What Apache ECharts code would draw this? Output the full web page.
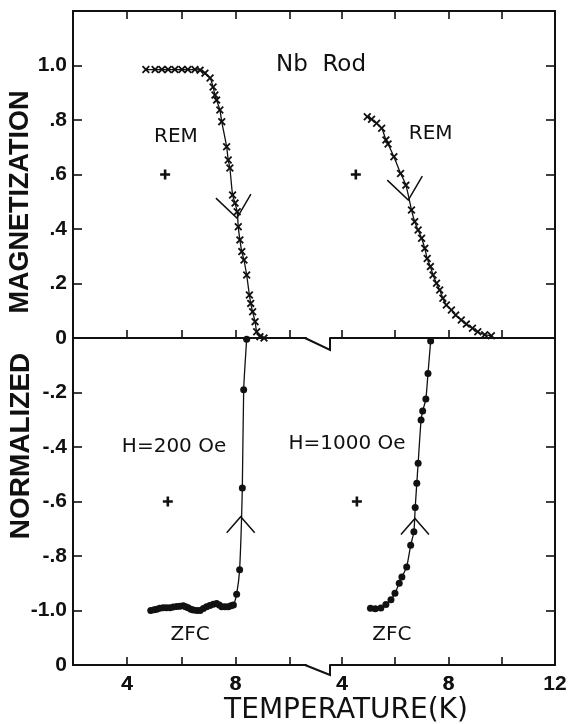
<!DOCTYPE html>
<html><head><meta charset="utf-8">
<script src="https://cdn.jsdelivr.net/npm/echarts@6/dist/echarts.min.js"></script>
<style>html,body{margin:0;padding:0;background:#fff}#c{width:571px;height:724px}</style>
</head><body><div id="c"></div>
<script>
// ---------- data ----------
// Left panel: H = 200 Oe ; Right panel: H = 1000 Oe
var remLeftT = [4.69,5.03,5.28,5.51,5.76,6.02,6.24,6.50,6.69,6.87,7.06,7.17,7.24,7.30,7.42,7.49,7.67,7.73,7.79,7.89,7.98,8.06,8.10,8.16,8.23,8.31,8.41,8.51,8.56,8.63,8.72,8.78,8.90,9.05];
var remLeftM = [0.985,0.985,0.985,0.985,0.985,0.985,0.985,0.985,0.983,0.972,0.954,0.921,0.892,0.873,0.837,0.794,0.702,0.653,0.624,0.525,0.495,0.463,0.408,0.360,0.317,0.286,0.231,0.158,0.127,0.096,0.060,0.023,0.005,0.0];

var remRightT = [4.95,5.11,5.30,5.49,5.65,5.73,5.95,6.20,6.40,6.61,6.73,6.86,6.99,7.11,7.20,7.32,7.42,7.55,7.67,7.79,7.92,8.11,8.27,8.48,8.67,8.90,9.10,9.36,9.61];
var remRightM = [0.812,0.803,0.788,0.770,0.727,0.712,0.665,0.604,0.561,0.470,0.427,0.396,0.366,0.329,0.292,0.262,0.231,0.201,0.176,0.146,0.121,0.103,0.084,0.066,0.051,0.036,0.023,0.012,0.008];

var zfcLeftT = [4.87,5.0,5.09,5.2,5.33,5.45,5.58,5.7,5.83,5.95,6.07,6.16,6.25,6.35,6.44,6.57,6.69,6.81,6.93,7.05,7.18,7.30,7.40,7.49,7.61,7.73,7.83,7.92,8.04,8.15,8.25,8.30,8.41];
var zfcLeftM = [-1.0,-0.997,-0.995,-0.992,-0.99,-0.99,-0.99,-0.987,-0.985,-0.984,-0.983,-0.986,-0.99,-0.995,-0.998,-1.0,-1.0,-0.993,-0.986,-0.982,-0.977,-0.974,-0.98,-0.986,-0.986,-0.986,-0.983,-0.98,-0.94,-0.85,-0.55,-0.19,-0.005];

var zfcRightT = [5.07,5.25,5.46,5.65,5.84,5.99,6.15,6.25,6.43,6.58,6.70,6.75,6.81,6.86,6.97,7.03,7.15,7.23,7.33];
var zfcRightM = [-0.992,-0.994,-0.991,-0.978,-0.961,-0.937,-0.900,-0.877,-0.840,-0.761,-0.711,-0.622,-0.533,-0.460,-0.301,-0.268,-0.224,-0.130,-0.011];

// error-bar crosses
var errLeftT = [5.4, 5.5];
var errLeftM = [0.6, -0.6];
var errRightT = [4.52, 4.56];
var errRightM = [0.6, -0.6];

// arrow vertices (dir: -1 = pointing down, 1 = pointing up)
var arrowLeftT = [8.05, 8.19];
var arrowLeftM = [0.44, -0.656];
var arrowLeftDir = [-1, 1];
var arrowRightT = [6.49, 6.74];
var arrowRightM = [0.506, -0.662];
var arrowRightDir = [-1, 1];

// text notes
var noteLeftText = ['REM', 'H=200 Oe', 'ZFC'];
var noteLeftT = [5.8, 5.73, 6.32];
var noteLeftM = [0.74, -0.40, -1.09];
var noteRightText = ['REM', 'H=1000 Oe', 'ZFC'];
var noteRightT = [7.33, 4.19, 5.87];
var noteRightM = [0.75, -0.39, -1.09];

// axes
var leftRange = [2, 10.6];
var rightRange = [3.55, 12];
var xTicksLeft = [4, 6, 8, 10];
var xLabelsLeft = [4, 8];
var xTicksRight = [4, 6, 8, 10];
var xLabelsRight = [4, 8, 12];
var xLabelsRightMid = [4, 8];
var yRange = [-1.2, 1.2];
var yTickValues = [-1, -0.8, -0.6, -0.4, -0.2, 0.2, 0.4, 0.6, 0.8, 1];
var yLabelValues = [-1.2, -1, -0.8, -0.6, -0.4, -0.2, 0, 0.2, 0.4, 0.6, 0.8, 1];
var yLabelTexts = ['0', '-1.0', '-.8', '-.6', '-.4', '-.2', '0', '.2', '.4', '.6', '.8', '1.0'];

// ---------- helpers ----------
function zip(a, b) { return a.map(function (v, i) { return [v, b[i]]; }); }
var INK = '#111';
var BOLD_FAM = '"Liberation Sans", Arial, sans-serif';
var NOTE_FAM = '"DejaVu Sans", sans-serif';
var X_SYM = 'path://M0,1.6L1.6,0L5,3.4L8.4,0L10,1.6L6.6,5L10,8.4L8.4,10L5,6.6L1.6,10L0,8.4L3.4,5Z';
var PLUS_SYM = 'path://M3.7,0H6.3V3.7H10V6.3H6.3V10H3.7V6.3H0V3.7H3.7Z';

function yFmt(v) {
  var best = 0, d = 1e9;
  for (var i = 0; i < yLabelValues.length; i++) {
    var dd = Math.abs(yLabelValues[i] - v);
    if (dd < d) { d = dd; best = i; }
  }
  return yLabelTexts[best];
}

function xAxisSet(grid, range, ticks, labels, pos, onZero, showLabels) {
  return {
    type: 'value', gridIndex: grid, min: range[0], max: range[1], position: pos,
    axisLine: { show: true, onZero: onZero, lineStyle: { color: INK, width: 2 } },
    axisTick: { show: true, inside: true, length: 8, customValues: ticks, lineStyle: { color: INK, width: 1.6 } },
    axisLabel: { show: showLabels, customValues: labels, margin: 9, fontFamily: BOLD_FAM, fontWeight: 'bold', fontSize: 21, color: INK },
    splitLine: { show: false }
  };
}

function arrowData(ts, ms, dirs) {
  return ts.map(function (t, i) { return [t, ms[i], dirs[i]]; });
}

function arrowRender(params, api) {
  var p = api.coord([api.value(0), api.value(1)]);
  var dir = api.value(2);
  var pts;
  if (dir < 0) {
    pts = [[p[0] - 21, p[1] - 20], [p[0], p[1]], [p[0] + 14, p[1] - 24]];
  } else {
    pts = [[p[0] - 14, p[1] + 16], [p[0], p[1]], [p[0] + 14, p[1] + 16]];
  }
  return { type: 'polyline', shape: { points: pts }, style: { stroke: INK, lineWidth: 1.5, fill: null } };
}

function noteRenderer(texts) {
  return function (params, api) {
    var p = api.coord([api.value(0), api.value(1)]);
    return {
      type: 'text', x: p[0], y: p[1],
      style: { text: texts[params.dataIndex], fill: INK, fontFamily: NOTE_FAM, fontSize: 20, align: 'center', verticalAlign: 'middle' }
    };
  };
}

var chart = echarts.init(document.getElementById('c'), null, { renderer: 'canvas' });

var option = {
  backgroundColor: '#fff',
  animation: false,
  grid: [
    { left: 73, top: 11, width: 233, height: 654 },
    { left: 330, top: 11, width: 225, height: 654 }
  ],
  xAxis: [
    xAxisSet(0, leftRange, xTicksLeft, xLabelsLeft, 'bottom', true, true),
    xAxisSet(0, leftRange, xTicksLeft, xLabelsLeft, 'bottom', false, true),
    xAxisSet(0, leftRange, xTicksLeft, xLabelsLeft, 'top', false, false),
    xAxisSet(1, rightRange, xTicksRight, xLabelsRightMid, 'bottom', true, true),
    xAxisSet(1, rightRange, xTicksRight, xLabelsRight, 'bottom', false, true),
    xAxisSet(1, rightRange, xTicksRight, xLabelsRight, 'top', false, false)
  ],
  yAxis: [
    {
      type: 'value', gridIndex: 0, min: yRange[0], max: yRange[1], position: 'left',
      axisLine: { show: true, onZero: false, lineStyle: { color: INK, width: 2 } },
      axisTick: { show: true, inside: true, length: 9, customValues: yTickValues, lineStyle: { color: INK, width: 1.6 } },
      axisLabel: { show: true, customValues: yLabelValues, formatter: yFmt, margin: 6, fontFamily: BOLD_FAM, fontWeight: 'bold', fontSize: 21, color: INK },
      splitLine: { show: false }
    },
    {
      type: 'value', gridIndex: 1, min: yRange[0], max: yRange[1], position: 'right',
      axisLine: { show: true, onZero: false, lineStyle: { color: INK, width: 2 } },
      axisTick: { show: true, inside: true, length: 9, customValues: yTickValues, lineStyle: { color: INK, width: 1.6 } },
      axisLabel: { show: false },
      splitLine: { show: false }
    }
  ],
  series: [
    { type: 'line', name: 'REM 200', xAxisIndex: 0, yAxisIndex: 0, data: zip(remLeftT, remLeftM), smooth: 0.25,
      symbol: X_SYM, symbolSize: 8, showSymbol: true, lineStyle: { color: INK, width: 1.3 }, itemStyle: { color: INK }, z: 5 },
    { type: 'line', name: 'REM 1000', xAxisIndex: 3, yAxisIndex: 1, data: zip(remRightT, remRightM), smooth: 0.25,
      symbol: X_SYM, symbolSize: 8, showSymbol: true, lineStyle: { color: INK, width: 1.3 }, itemStyle: { color: INK }, z: 5 },
    { type: 'line', name: 'ZFC 200', xAxisIndex: 0, yAxisIndex: 0, data: zip(zfcLeftT, zfcLeftM), smooth: 0.2,
      symbol: 'circle', symbolSize: 7, showSymbol: true, lineStyle: { color: INK, width: 1.3 }, itemStyle: { color: INK, borderWidth: 0 }, z: 5 },
    { type: 'line', name: 'ZFC 1000', xAxisIndex: 3, yAxisIndex: 1, data: zip(zfcRightT, zfcRightM), smooth: 0.2,
      symbol: 'circle', symbolSize: 7, showSymbol: true, lineStyle: { color: INK, width: 1.3 }, itemStyle: { color: INK, borderWidth: 0 }, z: 5 },
    { type: 'scatter', xAxisIndex: 0, yAxisIndex: 0, data: zip(errLeftT, errLeftM), symbol: PLUS_SYM, symbolSize: 10, itemStyle: { color: INK, opacity: 1 } },
    { type: 'scatter', xAxisIndex: 3, yAxisIndex: 1, data: zip(errRightT, errRightM), symbol: PLUS_SYM, symbolSize: 10, itemStyle: { color: INK, opacity: 1 } },
    { type: 'custom', xAxisIndex: 0, yAxisIndex: 0, data: arrowData(arrowLeftT, arrowLeftM, arrowLeftDir), renderItem: arrowRender, clip: false },
    { type: 'custom', xAxisIndex: 3, yAxisIndex: 1, data: arrowData(arrowRightT, arrowRightM, arrowRightDir), renderItem: arrowRender, clip: false },
    { type: 'custom', xAxisIndex: 0, yAxisIndex: 0, data: zip(noteLeftT, noteLeftM), renderItem: noteRenderer(noteLeftText), clip: false },
    { type: 'custom', xAxisIndex: 3, yAxisIndex: 1, data: zip(noteRightT, noteRightM), renderItem: noteRenderer(noteRightText), clip: false }
  ]
};
chart.setOption(option);

// axis break decorations and outer labels
var xL = chart.convertToPixel({ xAxisIndex: 0 }, leftRange[1]);
var xR = chart.convertToPixel({ xAxisIndex: 3 }, rightRange[0]);
var y0 = chart.convertToPixel({ yAxisIndex: 0 }, 0);
var yT = chart.convertToPixel({ yAxisIndex: 0 }, yRange[1]);
var yB = chart.convertToPixel({ yAxisIndex: 0 }, yRange[0]);
var brk = { stroke: INK, lineWidth: 2, fill: null };
chart.setOption({
  graphic: [
    { type: 'line', shape: { x1: xL - 1, y1: yT, x2: xR + 1, y2: yT }, style: { stroke: INK, lineWidth: 2 } },
    { type: 'polyline', shape: { points: [[xL - 1, y0], [xR, y0 + 12], [xR, y0]] }, style: brk },
    { type: 'polyline', shape: { points: [[xL - 1, yB], [xR, yB + 10], [xR, yB]] }, style: brk },
    { type: 'text', x: (xL + xR) / 2 + 3, y: 65, style: { text: 'Nb  Rod', fontFamily: NOTE_FAM, fontSize: 23, fill: INK, align: 'center', verticalAlign: 'middle' } },
    { type: 'text', x: 21, y: 202, rotation: Math.PI / 2, style: { text: 'MAGNETIZATION', fontFamily: BOLD_FAM, fontWeight: 'bold', fontSize: 27, fill: INK, align: 'center', verticalAlign: 'middle' } },
    { type: 'text', x: 21, y: 446, rotation: Math.PI / 2, style: { text: 'NORMALIZED', fontFamily: BOLD_FAM, fontWeight: 'bold', fontSize: 28, fill: INK, align: 'center', verticalAlign: 'middle' } },
    { type: 'text', x: 346, y: 711, style: { text: 'TEMPERATURE(K)', fontFamily: NOTE_FAM, fontSize: 28, fill: INK, align: 'center', verticalAlign: 'middle' } }
  ]
});
</script>
</body></html>
